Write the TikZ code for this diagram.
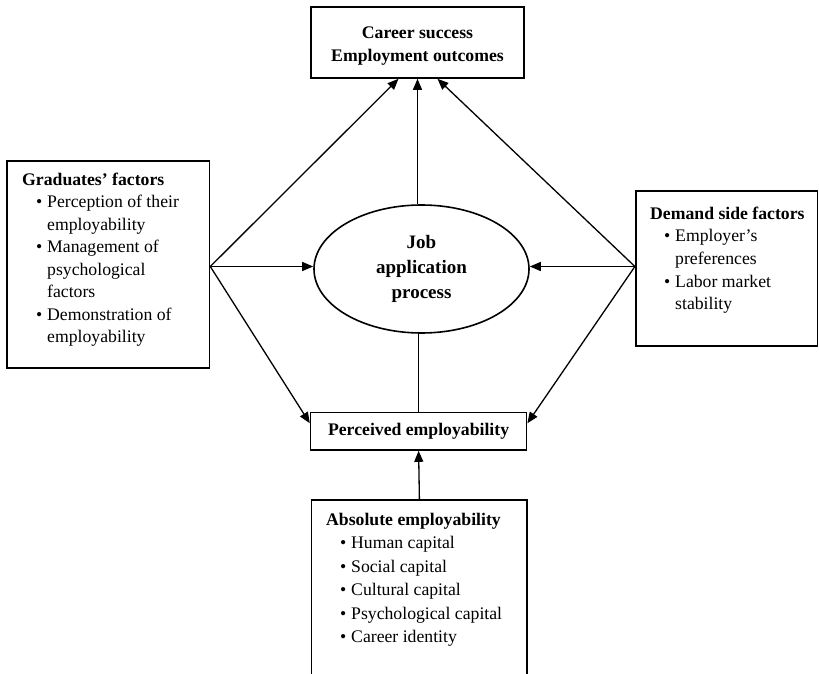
\documentclass[tikz,border=0pt]{standalone}
\usepackage{fontspec}
\setmainfont{Liberation Serif}
\usetikzlibrary{arrows.meta,shapes.geometric}
% bullet followed by the hanging indent of a list item
\newcommand{\bitem}{\makebox[25pt][l]{\hspace{14pt}\textbullet}}
\newcommand{\hang}{\hspace{25pt}}
\begin{document}
\fontsize{17.7}{22.5}\selectfont
\begin{tikzpicture}[x=1pt,y=-1pt,
  box/.style={draw, line width=1.6pt, inner sep=0pt},
  txt/.style={inner sep=0pt, anchor=base west},
  link/.style={line width=1.3pt},
  arr/.style={link, -{Triangle[length=11pt,width=9pt]}}]
\clip (0,0) rectangle (819,674);

% outcome box at the top
\node[box, minimum width=213, minimum height=71] (career) at (417.5,42.5) {};
\node[inner sep=0pt, align=center, font=\bfseries\fontsize{17.7}{23}\selectfont]
  (careertext) at (417.5,46.5) {Career success\\Employment outcomes};

% central process
\node[box, ellipse, minimum width=215, minimum height=128, align=center,
      font=\bfseries\fontsize{19}{25}\selectfont] (job) at (421.5,269)
  {Job\\application\\process};

% graduates' side
\node[box, minimum width=202.5, minimum height=207] (grad) at (108.25,264.5) {};
\node[txt] (gradtext) at (22,185) {\begin{tabular}[t]{@{}l@{}}
  \textbf{Graduates’ factors}\\
  \bitem Perception of their\\
  \hang employability\\
  \bitem Management of\\
  \hang psychological\\
  \hang factors\\
  \bitem Demonstration of\\
  \hang employability
\end{tabular}};

% demand side
\node[box, minimum width=181.8, minimum height=155] (demand) at (726.6,268.2) {};
\node[txt] (demandtext) at (650,219) {\fontsize{17.7}{22.7}\selectfont
  \begin{tabular}[t]{@{}l@{}}
  \textbf{Demand side factors}\\
  \bitem Employer’s\\
  \hang preferences\\
  \bitem Labor market\\
  \hang stability
\end{tabular}};

% perceived employability
\node[box, minimum width=216, minimum height=37.5, font=\bfseries] (perceived)
  at (418.6,431.25) {Perceived employability};

% absolute employability (runs off the lower edge)
\node[box, minimum width=215.5, minimum height=200] (absolute) at (419.4,600) {};
\node[txt] (abstext) at (326,525) {\fontsize{17.7}{23.5}\selectfont
  \begin{tabular}[t]{@{}l@{}}
  \textbf{Absolute employability}\\
  \bitem Human capital\\
  \bitem Social capital\\
  \bitem Cultural capital\\
  \bitem Psychological capital\\
  \bitem Career identity
\end{tabular}};

% junction points on the side boxes
\coordinate (gj) at (grad.east |- 0,266.5);
\coordinate (dj) at (demand.west |- 0,266.5);

% connectors
\draw[arr] (gj) -- (gj -| job.west);
\draw[arr] (gj) -- ([xshift=-19pt]career.south);
\draw[arr] (gj) -- ([yshift=8pt]perceived.west);
\draw[arr] (dj) -- (dj -| job.east);
\draw[arr] (dj) -- ([xshift=20pt]career.south);
\draw[arr] (dj) -- ([yshift=8pt]perceived.east);
\draw[arr] (career.south |- job.north) -- (career.south);
\draw[link] (perceived.north) -- (perceived.north |- job.south);
\draw[arr] (absolute.north) -- (perceived.south);
\end{tikzpicture}
\end{document}
